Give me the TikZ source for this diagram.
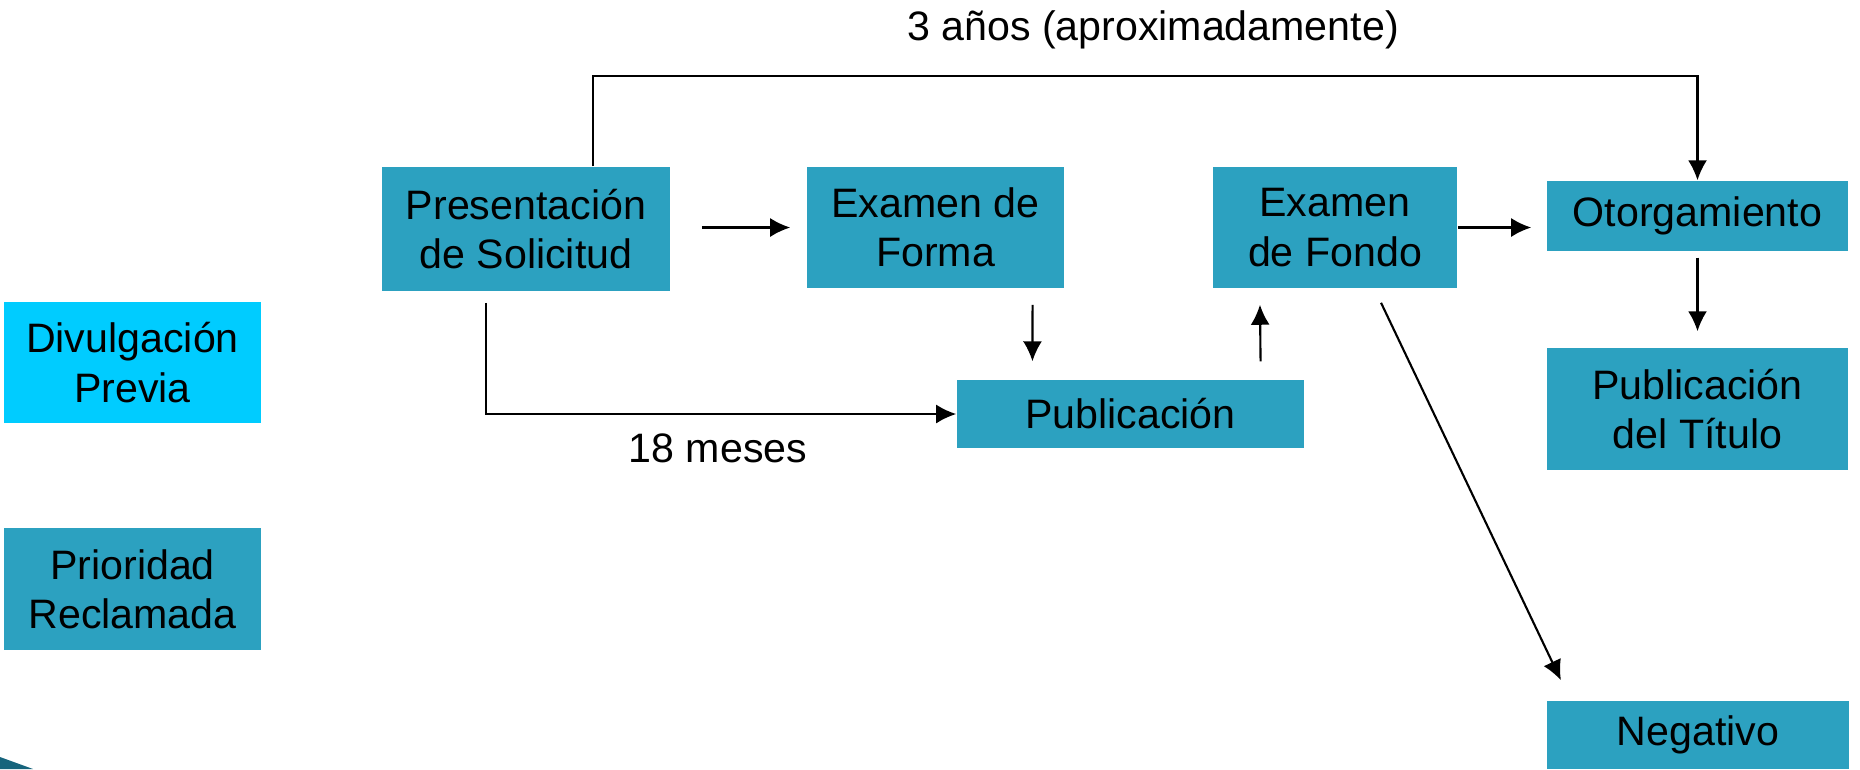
\documentclass[tikz,border=0pt]{standalone}
\usepackage{fontspec}
\setmainfont{Liberation Sans}
\usepackage{tikz}
\usetikzlibrary{positioning}
\usetikzlibrary{shapes,backgrounds,arrows,arrows.meta}
\definecolor{azulcaja}{RGB}{44,161,192}
\definecolor{celeste}{RGB}{0,204,255}
\definecolor{azuloscuro}{RGB}{22,100,124}
\tikzstyle{line} = [draw, -{Latex[length=2mm, width=1.9mm]}, line width=0.6pt]
\tikzstyle{caja} = [fill=azulcaja, inner sep=0pt, align=center, font=\fontsize{11.7}{14}\selectfont]

\begin{document}
\begin{tikzpicture}[x=0.01cm, y=-0.01cm]
	\useasboundingbox (0, 0) rectangle (1860, 769);
	\fill[azuloscuro] (0, 757) -- (33, 769) -- (0, 769) -- cycle;

	\node[caja, minimum width=2.57cm, minimum height=1.21cm, fill=celeste] (divul) at (132.5, 362.5) {Divulgación\\Previa};
	\node[caja, minimum width=2.57cm, minimum height=1.22cm] (prior) at (132.5, 589) {Prioridad\\Reclamada};

	\node[caja, minimum width=2.88cm, minimum height=1.24cm] (pres) at (526, 229) {Presentación\\de Solicitud};
	\node[caja, minimum width=2.57cm, minimum height=1.21cm] (forma) at (935.5, 227.5) {Examen de\\Forma};
	\node[caja, minimum width=2.44cm, minimum height=1.21cm] (fondo) at (1335, 227.5) {Examen\\de Fondo};
	\node[caja, minimum width=3.01cm, minimum height=0.70cm] (otorg) at (1697.5, 216) {Otorgamiento};
	\node[caja, minimum width=3.01cm, minimum height=1.22cm] (titulo) at (1697.5, 409) {Publicación\\del Título};
	\node[caja, minimum width=3.47cm, minimum height=0.68cm] (publ) at (1130.5, 414) {Publicación};
	\node[caja, minimum width=3.02cm, minimum height=0.68cm] (negativo) at (1698, 735) {Negativo};

	\coordinate (tope) at (1153, 76);
	\node[font=\fontsize{11.7}{14}\selectfont] (tres) at (1153, 30) {3 años (aproximadamente)};
	\node[font=\fontsize{11.7}{14}\selectfont] (meses) at (718, 448) {18 meses};

	\path[line] ([xshift=0.67cm]pres.north) |- (tope) -| (otorg.north);
	\path[line, shorten <=0.31cm, shorten >=0.16cm] (pres.east |- forma.west) -- (forma.west);
	\path[line] ([xshift=-0.4cm, yshift=-0.11cm]pres.south) |- (publ.west);
	\path[line] ([xshift=0.97cm, yshift=-0.16cm]forma.south) -- ([xshift=-0.98cm, yshift=0.18cm]publ.north);
	\path[line] ([xshift=1.3cm, yshift=0.18cm]publ.north) -- ([xshift=-0.75cm, yshift=-0.16cm]fondo.south);
	\path[line, shorten >=0.15cm] (fondo.east) -- (otorg.west |- fondo.east);
	\path[line, shorten <=0.06cm, shorten >=0.16cm] (otorg.south) -- (titulo.north);
	\path[line] ([xshift=0.46cm, yshift=-0.14cm]fondo.south) -- ([xshift=-1.37cm, yshift=0.2cm]negativo.north);
\end{tikzpicture}
\end{document}
